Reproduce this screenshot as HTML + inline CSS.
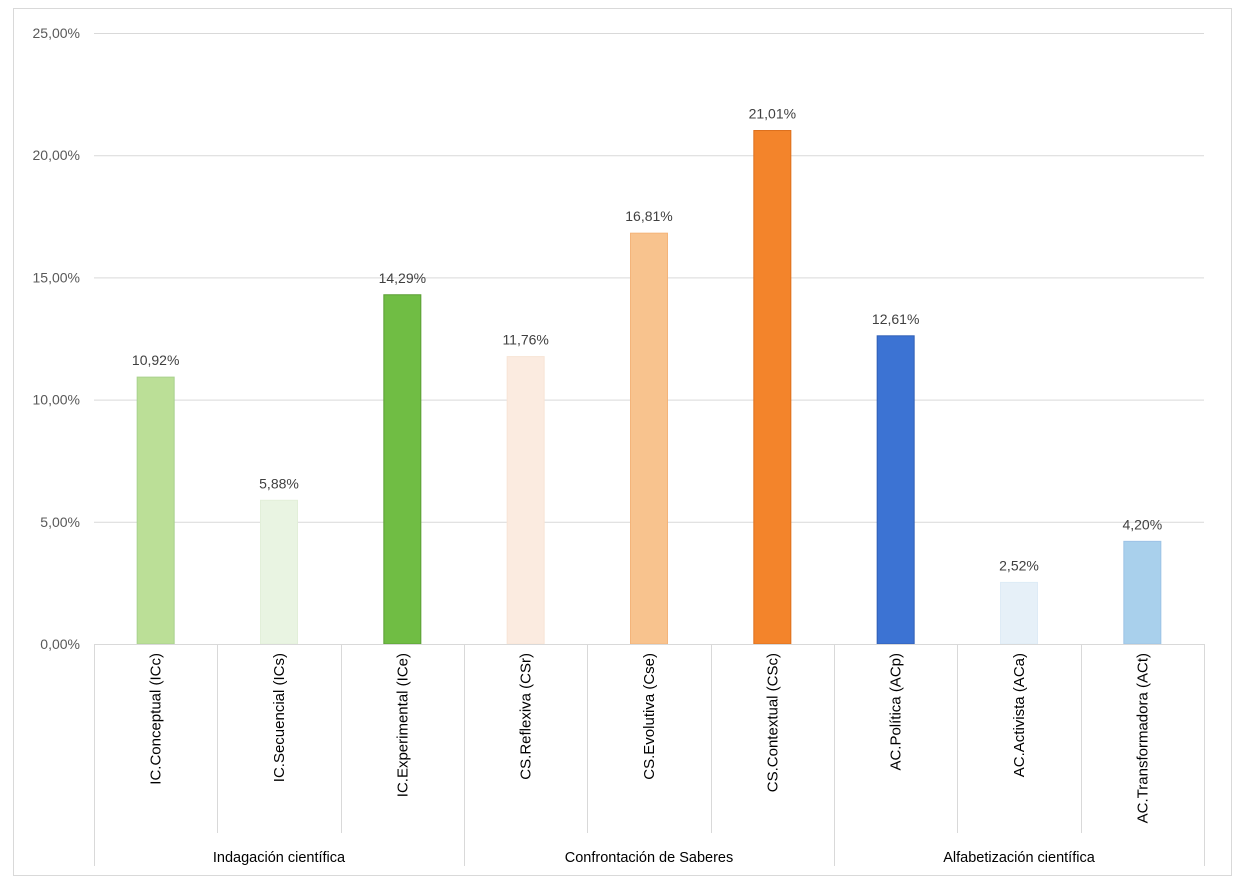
<!DOCTYPE html>
<html><head><meta charset="utf-8"><style>
body{margin:0;background:#fff}
svg{display:block;font-family:"Liberation Sans",sans-serif}
</style></head><body>
<svg id="chart" width="1242" height="890" xmlns="http://www.w3.org/2000/svg">
<rect x="13.5" y="8.5" width="1218" height="867" fill="#fff" stroke="#d9d9d9"/>
<g id="grid"></g><g id="bars"></g><g id="xaxis"></g>
</svg>
<script>
const categories=["IC.Conceptual (ICc)","IC.Secuencial (ICs)","IC.Experimental (ICe)","CS.Reflexiva (CSr)","CS.Evolutiva (Cse)","CS.Contextual (CSc)","AC.Política (ACp)","AC.Activista (ACa)","AC.Transformadora (ACt)"];
const values=[10.92,5.88,14.29,11.76,16.81,21.01,12.61,2.52,4.20];
const valueLabels=["10,92%","5,88%","14,29%","11,76%","16,81%","21,01%","12,61%","2,52%","4,20%"];
const groups=["Indagación científica","Confrontación de Saberes","Alfabetización científica"];
const tickValues=[0,5,10,15,20,25];
const tickLabels=["0,00%","5,00%","10,00%","15,00%","20,00%","25,00%"];
const fills=["#bbdf97","#e9f4e2","#70bd44","#fbebe0","#f8c38e","#f3842b","#3c73d3","#e6f0f8","#a9d0ec"];
const strokes=["#a9d18e","#e2efd9","#5a9e33","#f8e5d6","#f4b47a","#dd6f1c","#2f5eb5","#deebf6","#9dc3e6"];
const NS="http://www.w3.org/2000/svg";
const x0=94,x1=1204,y0=644,yTop=33,maxV=25;
const bw=(x1-x0)/categories.length;
const y=v=>y0-(v/maxV)*(y0-yTop);
const xc=i=>x0+bw*(i+0.5);
function mk(t,a,p){const e=document.createElementNS(NS,t);for(const k in a)e.setAttribute(k,a[k]);p.appendChild(e);return e;}
const grid=document.getElementById('grid'),bars=document.getElementById('bars'),xa=document.getElementById('xaxis');
tickValues.forEach((v,i)=>{
 if(v>0){const l=mk('line',{x1:x0,x2:x1,y1:y(v)+0.5,y2:y(v)+0.5,stroke:'#d9d9d9'},grid);
 
 }
 const t=mk('text',{x:80,y:y(v)+5,'text-anchor':'end','font-size':'14',fill:'#595959'},grid);
 t.textContent=tickLabels[i];
 
 
});
values.forEach((v,i)=>{
 const w=37;
 const r=mk('rect',{x:xc(i)-w/2,y:y(v),width:w,height:y0-y(v),fill:fills[i],stroke:strokes[i]},bars);
 
 
 const t=mk('text',{x:xc(i),y:y(v)-12,'text-anchor':'middle','font-size':'14',fill:'#404040'},bars);
 t.textContent=valueLabels[i];
 
 
 const c=mk('text',{transform:`translate(${xc(i)+5},653) rotate(-90)`,'text-anchor':'end','font-size':'15',fill:'#000'},xa);
 c.textContent=categories[i];
 
 
});
const ax=mk('line',{x1:x0,x2:x1,y1:y0+0.5,y2:y0+0.5,stroke:'#d9d9d9'},xa);


for(let i=0;i<=categories.length;i++){
 const gx=Math.round(x0+bw*i)+0.5;
 const l=mk('line',{x1:gx,x2:gx,y1:y0,y2:(i%3==0)?866:833,stroke:'#d9d9d9'},xa);
 
 
}
groups.forEach((g,i)=>{
 const t=mk('text',{x:x0+bw*(i*3+1.5),y:862,'text-anchor':'middle','font-size':'14.5',fill:'#000'},xa);
 t.textContent=g;
 
 
});
</script>
</body></html>
